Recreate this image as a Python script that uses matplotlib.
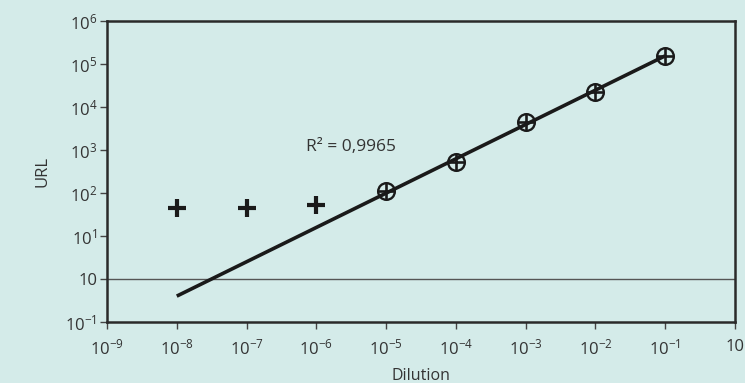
import numpy as np
import matplotlib
matplotlib.use("Agg")
import matplotlib.pyplot as plt

# Data (positions on log axes)
below_x = [1e-8, 1e-7, 1e-6]
below_y = [45, 45, 52]
fit_pts_x = [1e-5, 1e-4, 1e-3, 1e-2, 1e-1]
fit_pts_y = [112, 525, 4470, 22400, 155000]
line_x = [1e-8, 1e-1]
line_y = [0.40, 155000]
threshold_y = 1.0
r2_text = "R² = 0,9965"

x_ticks = [1e-9, 1e-8, 1e-7, 1e-6, 1e-5, 1e-4, 1e-3, 1e-2, 1e-1, 1e0]
x_tick_labels = [r"10$^{-9}$", r"10$^{-8}$", r"10$^{-7}$", r"10$^{-6}$", r"10$^{-5}$",
                 r"10$^{-4}$", r"10$^{-3}$", r"10$^{-2}$", r"10$^{-1}$", "10"]
y_ticks = [1e-1, 1e0, 1e1, 1e2, 1e3, 1e4, 1e5, 1e6]
y_tick_labels = [r"10$^{-1}$", "10", r"10$^{1}$", r"10$^{2}$", r"10$^{3}$",
                 r"10$^{4}$", r"10$^{5}$", r"10$^{6}$"]

bg = "#d4ebe9"
ink = "#1a1a1a"
plt.rcParams['font.family'] = ['Open Sans', 'DejaVu Sans']
plt.rcParams['mathtext.fontset'] = 'custom'
plt.rcParams['mathtext.rm'] = 'Open Sans'
plt.rcParams['mathtext.default'] = 'rm'

fig = plt.figure(figsize=(7.45, 3.83), dpi=100, facecolor=bg)
ax = fig.add_axes([107/745, 1 - 322/383, (735-107)/745, (322-21)/383])
ax.set_facecolor(bg)
ax.set_xscale('log')
ax.set_yscale('log')
ax.set_xlim(1e-9, 1e0)
ax.set_ylim(1e-1, 1e6)

ax.axhline(threshold_y, color="#555555", lw=1.0, zorder=1)
ax.plot(line_x, line_y, color=ink, lw=2.6, solid_capstyle='butt', zorder=2)
ax.plot(below_x, below_y, linestyle='none', marker='+', ms=13, mew=3, color=ink, zorder=3)
ax.plot(fit_pts_x, fit_pts_y, linestyle='none', marker='o', ms=12, mew=1.7,
        mfc=(1, 1, 1, 0), mec=ink, zorder=4)
ax.plot(fit_pts_x, fit_pts_y, linestyle='none', marker='+', ms=12, mew=1.9,
        color=ink, zorder=4)

ax.text(7e-7, 1.2e3, r2_text, fontsize=12.5, color="#333333", va='center', ha='left')

ax.set_xticks(x_ticks)
ax.set_xticklabels(x_tick_labels)
ax.set_yticks(y_ticks)
ax.set_yticklabels(y_tick_labels)
ax.minorticks_off()
ax.tick_params(axis='both', direction='out', length=5, width=1, color="#444444",
               labelsize=12, labelcolor="#333333")
ax.tick_params(axis='x', pad=7)
ax.tick_params(axis='y', pad=2)
for s in ax.spines.values():
    s.set_linewidth(1.8)
    s.set_color("#2a2a2a")

ax.set_xlabel("Dilution", fontsize=11.5, color="#333333", labelpad=7)
ax.set_ylabel("URL", fontsize=12, color="#333333", labelpad=11)

fig.savefig("out.png", dpi=100, facecolor=bg)
